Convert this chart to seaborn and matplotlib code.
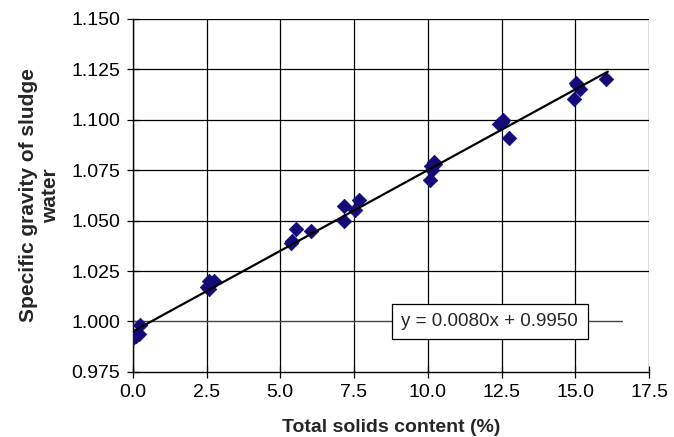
import numpy as np
import pandas as pd
import matplotlib
matplotlib.use('Agg')
import matplotlib.pyplot as plt
import seaborn as sns

# Measured points: total solids (%) vs specific gravity
solids = [0.0, 0.05, 0.1, 0.2, 0.25,
          2.5, 2.58, 2.6, 2.75,
          5.36, 5.4, 5.54, 6.04,
          7.15, 7.17, 7.52, 7.68,
          10.06, 10.1, 10.13, 10.2, 10.25,
          12.4, 12.5, 12.55, 12.75,
          14.95, 15.03, 15.05, 15.15, 16.05]
gravity = [0.992, 0.993, 0.993, 0.994, 0.998,
           1.017, 1.016, 1.020, 1.020,
           1.039, 1.040, 1.046, 1.045,
           1.057, 1.050, 1.055, 1.060,
           1.070, 1.077, 1.075, 1.079, 1.078,
           1.098, 1.099, 1.100, 1.091,
           1.110, 1.118, 1.117, 1.115, 1.120]

slope = 0.0080
intercept = 0.9950
fit_x = [0.0, 16.1]

x_ticks = [0.0, 2.5, 5.0, 7.5, 10.0, 12.5, 15.0, 17.5]
y_ticks = [0.975, 1.000, 1.025, 1.050, 1.075, 1.100, 1.125, 1.150]

df = pd.DataFrame({'solids': solids, 'gravity': gravity})

sns.set_style('white')
plt.rcParams['font.family'] = ['Liberation Sans', 'DejaVu Sans']

fig = plt.figure(figsize=(6.74, 4.37), dpi=100)
ax = fig.add_axes([0.197, 0.149, 0.766, 0.808])

sns.scatterplot(data=df, x='solids', y='gravity', marker='D', s=55,
                color='#140a78', edgecolor='#140a78', linewidth=0.5,
                ax=ax, zorder=3)

fit_y = [slope * v + intercept for v in fit_x]
ax.plot(fit_x, fit_y, color='black', linewidth=1.6, zorder=4)

ax.set_xlim(0, 17.5)
ax.set_ylim(0.975, 1.150)
ax.set_xticks(x_ticks)
ax.set_yticks(y_ticks)
ax.set_xticklabels([f'{v:.1f}' for v in x_ticks])
ax.set_yticklabels([f'{v:.3f}' for v in y_ticks])

# gridlines: vertical at every x tick, horizontal at every y tick
ax.grid(True, axis='x', color='black', linewidth=0.9)
for v in y_ticks[2:]:
    ax.axhline(v, color='black', linewidth=0.9, zorder=1)
# the 1.000 line stops short of the right edge in the original
ax.axhline(1.000, xmax=0.948, color='#444444', linewidth=1.0, zorder=1)
ax.set_axisbelow(True)

for side in ['left', 'bottom']:
    ax.spines[side].set_color('black')
    ax.spines[side].set_linewidth(1.0)
for side in ['top', 'right']:
    ax.spines[side].set_visible(False)

ax.tick_params(axis='both', direction='inout', length=8, width=0.9,
               labelsize=14, colors='black', pad=5, left=True, bottom=True)

ax.set_xlabel('Total solids content (%)', fontsize=14, fontweight='bold', labelpad=12.5)
ax.set_ylabel('Specific gravity of sludge\nwater', fontsize=15, fontweight='bold',
              labelpad=8, linespacing=1.25)

ax.text(12.1, 1.000, f'y = {slope:.4f}x + {intercept:.4f}', fontsize=13.5,
        ha='center', va='center', zorder=5,
        bbox=dict(boxstyle='square,pad=0.5', facecolor='white',
                  edgecolor='black', linewidth=0.9))

fig.savefig('out.png', dpi=100)
